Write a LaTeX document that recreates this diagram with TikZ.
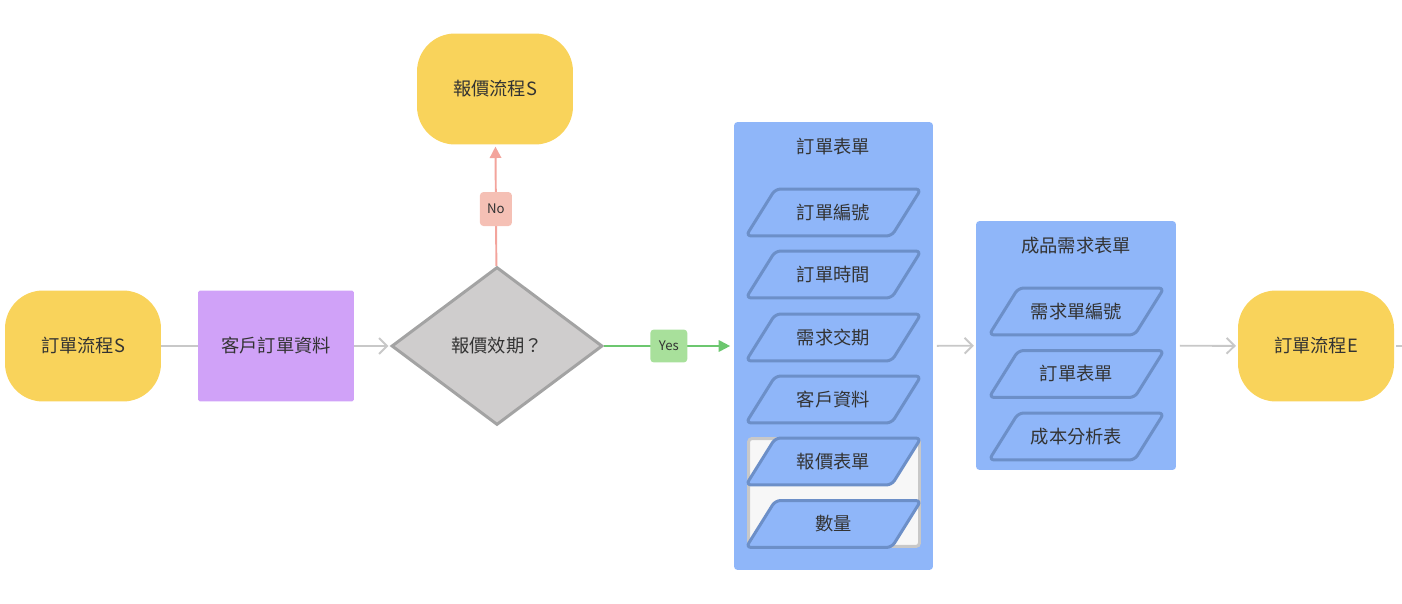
\documentclass[tikz,border=0pt]{standalone}
\usepackage{fontspec}
\setmainfont{Noto Sans CJK TC}
\usetikzlibrary{arrows.meta,shapes.geometric,positioning}

\definecolor{termyellow}{HTML}{F9D35B}
\definecolor{datapurple}{HTML}{D0A2F8}
\definecolor{decgray}{HTML}{CFCDCD}
\definecolor{decline}{HTML}{A3A3A3}
\definecolor{formblue}{HTML}{8FB6F9}
\definecolor{fieldline}{HTML}{6C8FC8}
\definecolor{linkgray}{HTML}{C8C8C8}
\definecolor{nored}{HTML}{F3A49C}
\definecolor{nolabel}{HTML}{F5C0B5}
\definecolor{yesgreen}{HTML}{6CC76F}
\definecolor{yeslabel}{HTML}{A8E09B}
\definecolor{txt}{HTML}{333333}

\begin{document}
\begin{tikzpicture}[x=0.02cm,y=-0.02cm,
  every node/.style={text=txt,font=\fontsize{10.4}{12}\selectfont},
  terminal/.style={rectangle,rounded corners=0.76cm,fill=termyellow,minimum width=3.12cm,minimum height=2.22cm},
  datablock/.style={rectangle,fill=datapurple,rounded corners=1pt,minimum width=3.12cm,minimum height=2.22cm},
  decision/.style={diamond,fill=decgray,draw=decline,line width=1.7pt,inner sep=0pt,minimum width=4.22cm,minimum height=3.16cm},
  form/.style={rectangle,fill=formblue,rounded corners=2pt},
  field/.style={trapezium,trapezium left angle=58,trapezium right angle=122,trapezium stretches body=true,
    fill=formblue,draw=fieldline,line width=1.7pt,rounded corners=3pt,text height=8.5pt,text depth=1pt,
    inner ysep=8.6pt,inner xsep=0pt,minimum width=3.5cm},
  group/.style={rectangle,fill=white!97!black,draw=linkgray,line width=1.7pt,rounded corners=2pt,minimum width=3.42cm,minimum height=2.16cm},
  link/.style={draw=linkgray,line width=1.1pt},
  openarrow/.style={link,-{Straight Barb[length=4.5pt,width=9pt,line width=1.1pt]}},
  tag/.style={rectangle,rounded corners=2pt,inner sep=0pt,font=\fontsize{7.5}{9}\selectfont}]
\useasboundingbox (0,0) rectangle (1402,604);

% start, data and decision
\node (orderS) [terminal] at (83,346) {訂單流程S};
\node (custData) [datablock] at (276,346) {客戶訂單資料};
\node (quote) [decision] at (497,346) {報價效期？};
\node (quoteS) [terminal] at (495,89) {報價流程S};

% order form
\node (orderForm) [form,minimum width=3.98cm,minimum height=8.96cm] at (833.5,346) {};
\node (orderTitle) at (833.5,147) {訂單表單};
\node (quoteGroup) [group] at (834,492.5) {};
\node (orderNo) [field] at (833.5,212.5) {訂單編號};
\node (orderTime) [field] at (833.5,274.5) {訂單時間};
\node (dueDate) [field] at (833.5,337.5) {需求交期};
\node (custInfo) [field] at (833.5,399.5) {客戶資料};
\node (quoteForm) [field] at (833.5,461.5) {報價表單};
\node (qty) [field] at (833.5,524) {數量};

% product demand form
\node (prodForm) [form,minimum width=4.0cm,minimum height=4.98cm] at (1076,345.5) {};
\node (prodTitle) at (1076,246) {成品需求表單};
\node (demandNo) [field] at (1076.5,311.5) {需求單編號};
\node (orderRef) [field] at (1076.5,374) {訂單表單};
\node (costTable) [field] at (1076.5,436.5) {成本分析表};

% end
\node (orderE) [terminal] at (1316,346) {訂單流程E};
\coordinate (tail) at (1420,346);

% connectors
\draw [link] (orderS) -- (custData);
\draw [openarrow,shorten >=1pt] (custData) -- (quote);
\draw [draw=nored,line width=1.1pt,-{Triangle[length=6.5pt,width=6.5pt]},shorten >=1pt] (quote) -- (quoteS)
  node (noTag) [tag,pos=0.47,fill=nolabel,minimum width=0.64cm,minimum height=0.68cm] {No};
\draw [draw=yesgreen,line width=1.1pt,-{Triangle[length=6.5pt,width=6.5pt]},shorten >=2pt] (quote) -- (orderForm)
  node (yesTag) [tag,midway,fill=yeslabel,minimum width=0.74cm,minimum height=0.66cm] {Yes};
\draw [openarrow,shorten <=2pt,shorten >=1pt] (orderForm) -- (prodForm);
\draw [openarrow,shorten <=2pt,shorten >=1pt] (prodForm) -- (orderE);
\draw [link,shorten <=1pt] (orderE) -- (tail);
\end{tikzpicture}
\end{document}
